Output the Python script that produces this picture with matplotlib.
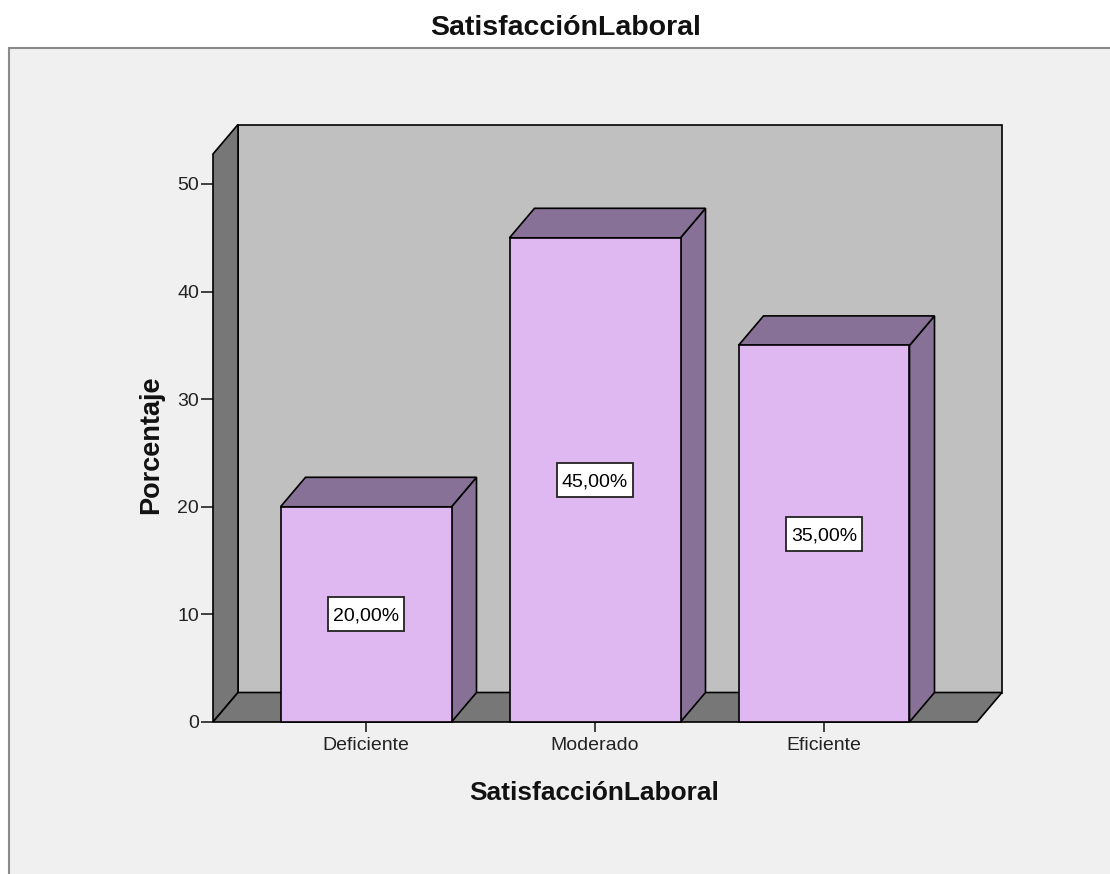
import matplotlib.pyplot as plt
from matplotlib.patches import Polygon, Rectangle
from matplotlib.transforms import ScaledTranslation

# -----------------------------
# Data
# -----------------------------
categories = ["Deficiente", "Moderado", "Eficiente"]
percentages = [20.0, 45.0, 35.0]
bar_labels = ["20,00%", "45,00%", "35,00%"]
y_ticks = [0, 10, 20, 30, 40, 50]

plt.rcParams["font.family"] = ["Liberation Sans", "DejaVu Sans"]

W, H = 1110, 874
fig = plt.figure(figsize=(W / 100, H / 100), dpi=100, facecolor="white")

# outer frame of the chart area (drawn below the axes)
fig.patches.append(Rectangle((9 / W, -0.1), 1.2, (1 - 48 / H) + 0.1,
                             transform=fig.transFigure, facecolor="#F0F0F0",
                             edgecolor="#8A8A8A", linewidth=1.5, zorder=-5))

# front face of the 3D box (pixels)
left_px, right_px, bottom_px, top_px = 213, 977, 722, 154
ax = fig.add_axes([left_px / W, 1 - bottom_px / H,
                   (right_px - left_px) / W, (bottom_px - top_px) / H])
ax.set_facecolor("none")

px_per_unit = (722 - 184) / 50.0
px_per_cat = 229.0
ymax = (bottom_px - top_px) / px_per_unit
x0 = -(366 - left_px) / px_per_cat
x1 = 2 + (right_px - 824) / px_per_cat
ax.set_xlim(x0, x1)
ax.set_ylim(0, ymax)

dx = 25 / px_per_cat
dy = 29.5 / px_per_unit
lw = 1.2

def poly(pts, color, z):
    ax.add_patch(Polygon(pts, closed=True, facecolor=color, edgecolor="black",
                         linewidth=lw, clip_on=False, zorder=z, joinstyle="miter"))

# back wall, left wall, floor
poly([(x0 + dx, dy), (x1 + dx, dy), (x1 + dx, ymax + dy), (x0 + dx, ymax + dy)], "#C0C0C0", 1)
poly([(x0, 0), (x0 + dx, dy), (x0 + dx, ymax + dy), (x0, ymax)], "#777777", 2)
poly([(x0, 0), (x1, 0), (x1 + dx, dy), (x0 + dx, dy)], "#777777", 2)

# bars
bw = 171 / px_per_cat
front_c = "#DFB8F2"
side_c = "#877196"
for i, v in enumerate(percentages):
    xl, xr = i - bw / 2, i + bw / 2
    poly([(xr, 0), (xr + dx, dy), (xr + dx, v + dy), (xr, v)], side_c, 3)
    poly([(xl, v), (xr, v), (xr + dx, v + dy), (xl + dx, v + dy)], side_c, 3)
    poly([(xl, 0), (xr, 0), (xr, v), (xl, v)], front_c, 4)
    # label box: fixed size in inches around the bar's mid point
    box_tr = fig.dpi_scale_trans + ScaledTranslation(i, v / 2, ax.transData)
    ax.add_patch(Rectangle((-0.38, -0.17), 0.76, 0.34, transform=box_tr,
                           facecolor="white", edgecolor="#222222",
                           linewidth=1.3, zorder=5, clip_on=False))
    ax.text(i, v / 2, bar_labels[i], ha="center", va="center_baseline",
            fontsize=14, color="black", zorder=6)

# axes styling
for s in ax.spines.values():
    s.set_visible(False)
ax.set_yticks(y_ticks)
ax.set_yticklabels([str(t) for t in y_ticks])
ax.set_xticks(range(len(categories)))
ax.set_xticklabels(categories)
ax.tick_params(axis="y", direction="out", length=9, width=1.2, pad=1,
               labelsize=14, colors="#222222")
ax.tick_params(axis="x", direction="out", length=7, width=1.2, pad=4,
               labelsize=14, colors="#222222")

# titles
fig.text(566 / W, 1 - 35 / H, "SatisfacciónLaboral", ha="center", va="baseline",
         fontsize=20.5, fontweight="bold", color="#111111")
fig.text(594 / W, 1 - 800 / H, "SatisfacciónLaboral", ha="center", va="baseline",
         fontsize=18.9, fontweight="bold", color="#111111")
fig.text(158 / W, 1 - 445 / H, "Porcentaje", ha="center", va="baseline",
         rotation=90, rotation_mode="anchor", fontsize=19.5,
         fontweight="bold", color="#111111")

fig.savefig("out.png", dpi=100, facecolor="white")
